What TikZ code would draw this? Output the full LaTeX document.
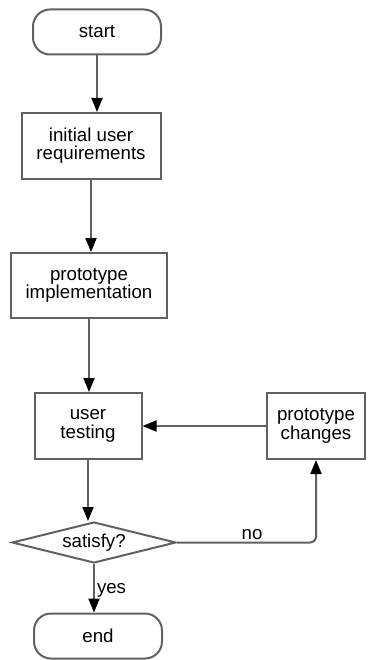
\documentclass[tikz,border=0pt]{standalone}
\usepackage{fontspec}
\setmainfont{Liberation Sans}
\usetikzlibrary{shapes.geometric,arrows.meta}

\begin{document}
\begin{tikzpicture}[x=1pt,y=-1pt]
	\tikzstyle{box}=[rectangle,draw=black!62,line width=2pt,fill=white,align=center,inner sep=0pt,font=\fontsize{18.7}{18.3}\selectfont]
	\tikzstyle{term}=[box,rounded corners=17pt,minimum width=128pt,minimum height=45pt]
	\tikzstyle{choice}=[box,diamond,aspect=4,minimum width=164pt,minimum height=41pt]
	\tikzstyle{edge}=[draw=black!62,line width=2pt,-{Triangle[width=11pt,length=14pt,color=black]}]
	\tikzstyle{lbl}=[font=\fontsize{18.7}{18.3}\selectfont,inner sep=2pt]

	\useasboundingbox (0,0) rectangle (367,660);

	\node [term] (start) at (97,32) {start};
	\node [box,minimum width=139pt,minimum height=66pt] (init) at (91,146) {initial user\\requirements};
	\node [box,minimum width=156pt,minimum height=65pt] (impl) at (89,285.5) {prototype\\implementation};
	\node [box,minimum width=107pt,minimum height=66pt] (test) at (88,426) {user\\testing};
	\node [box,minimum width=98pt,minimum height=66pt] (chg) at (316,426) {prototype\\changes};
	\node [choice] (sat) at (94,542.5) {satisfy?};
	\node [term] (end) at (98,636) {end};

	\path[edge] (start.south) -- (start.south |- init.north);
	\path[edge] (init.south) -- (init.south |- impl.north);
	\path[edge] (impl.south) -- (impl.south |- test.north);
	\path[edge] (test.south) -- (test.south |- sat.north);
	\path[edge] (sat.south) -- (sat.south |- end.north) node [lbl,midway,right,yshift=-2pt] {yes};
	\path[edge,rounded corners=6pt] (sat.east) -| (chg.south) node [lbl,pos=0.27,above] {no};
	\path[edge] (chg.west) -- (test.east);

\end{tikzpicture}
\end{document}
